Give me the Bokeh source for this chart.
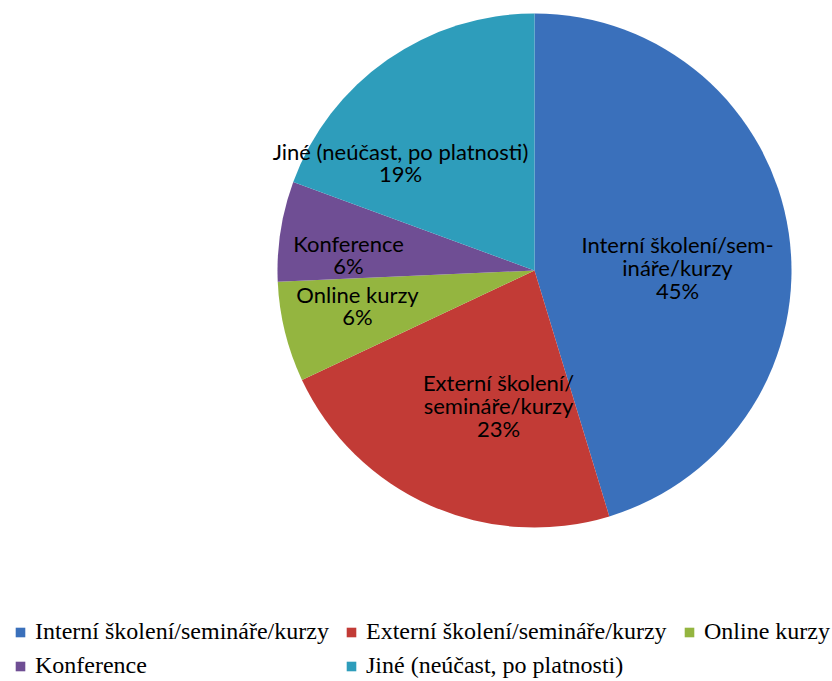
import math
from bokeh.plotting import figure
from bokeh.models import ColumnDataSource, Range1d, Legend, LegendItem
from bokeh.core.properties import value
from bokeh.embed import file_html
from bokeh.resources import INLINE

categories = ["Interní školení/semináře/kurzy", "Externí školení/semináře/kurzy",
              "Online kurzy", "Konference", "Jiné (neúčast, po platnosti)"]
values = [45.3, 22.7, 6.3, 6.3, 19.4]
pct_labels = ["45%", "23%", "6%", "6%", "19%"]
slice_text = ["Interní školení/sem-\nináře/kurzy",
              "Externí školení/\nsemináře/kurzy",
              "Online kurzy", "Konference", "Jiné (neúčast, po platnosti)"]
colors = ["#3a70bb", "#c23b36", "#94b540", "#6f4e94", "#2e9dbb"]

W, H = 832, 681
cx, cy, R = 534, H - 270, 257
# label anchor positions (data units == pixels)
lab_x = [677, 498, 357, 348, 400]
lab_y = [H - 267, H - 405, H - 305, H - 254, H - 162]

total = sum(values)
starts, ends = [], []
a = math.pi / 2
for v in values:
    s = a - 2 * math.pi * v / total
    starts.append(s)
    ends.append(a)
    a = s

src = ColumnDataSource(dict(cat=categories, val=values, start=starts, end=ends, color=colors,
                            x=[cx] * 5, y=[cy] * 5))

p = figure(width=W, height=H, output_backend="svg", toolbar_location=None,
           x_range=Range1d(0, W), y_range=Range1d(0, H), min_border=0)
p.axis.visible = False
p.grid.visible = False
p.outline_line_color = None

r = p.wedge(x="x", y="y", radius=R, start_angle="start", end_angle="end",
            fill_color="color", line_color=None, source=src)

texts = [t + "\n" + pc for t, pc in zip(slice_text, pct_labels)]
tsrc = ColumnDataSource(dict(x=lab_x, y=lab_y, t=texts))
p.text(x="x", y="y", text="t", source=tsrc, text_align="center", text_baseline="middle",
       text_font=value("Lato"), text_font_size="22px", text_color="#000000",
       text_line_height=0.85)

# legend laid out as three columns (col1: items 0,3; col2: items 1,4; col3: item 2)
columns = [([0, 3], (14, 2)), ([1, 4], (345, 2)), ([2], (683, 36))]
for idxs, loc in columns:
    items = [LegendItem(label=categories[i], renderers=[r], index=i) for i in idxs]
    lg = Legend(items=items, location=loc, orientation="vertical",
                label_text_font="Liberation Serif", label_text_font_size="24px",
                label_text_color="#000000", glyph_width=12, glyph_height=12,
                label_standoff=9, spacing=7, padding=0, margin=0,
                background_fill_alpha=0, border_line_color=None, label_height=16)
    p.add_layout(lg)

open("out.html", "w").write(file_html(p, INLINE))
